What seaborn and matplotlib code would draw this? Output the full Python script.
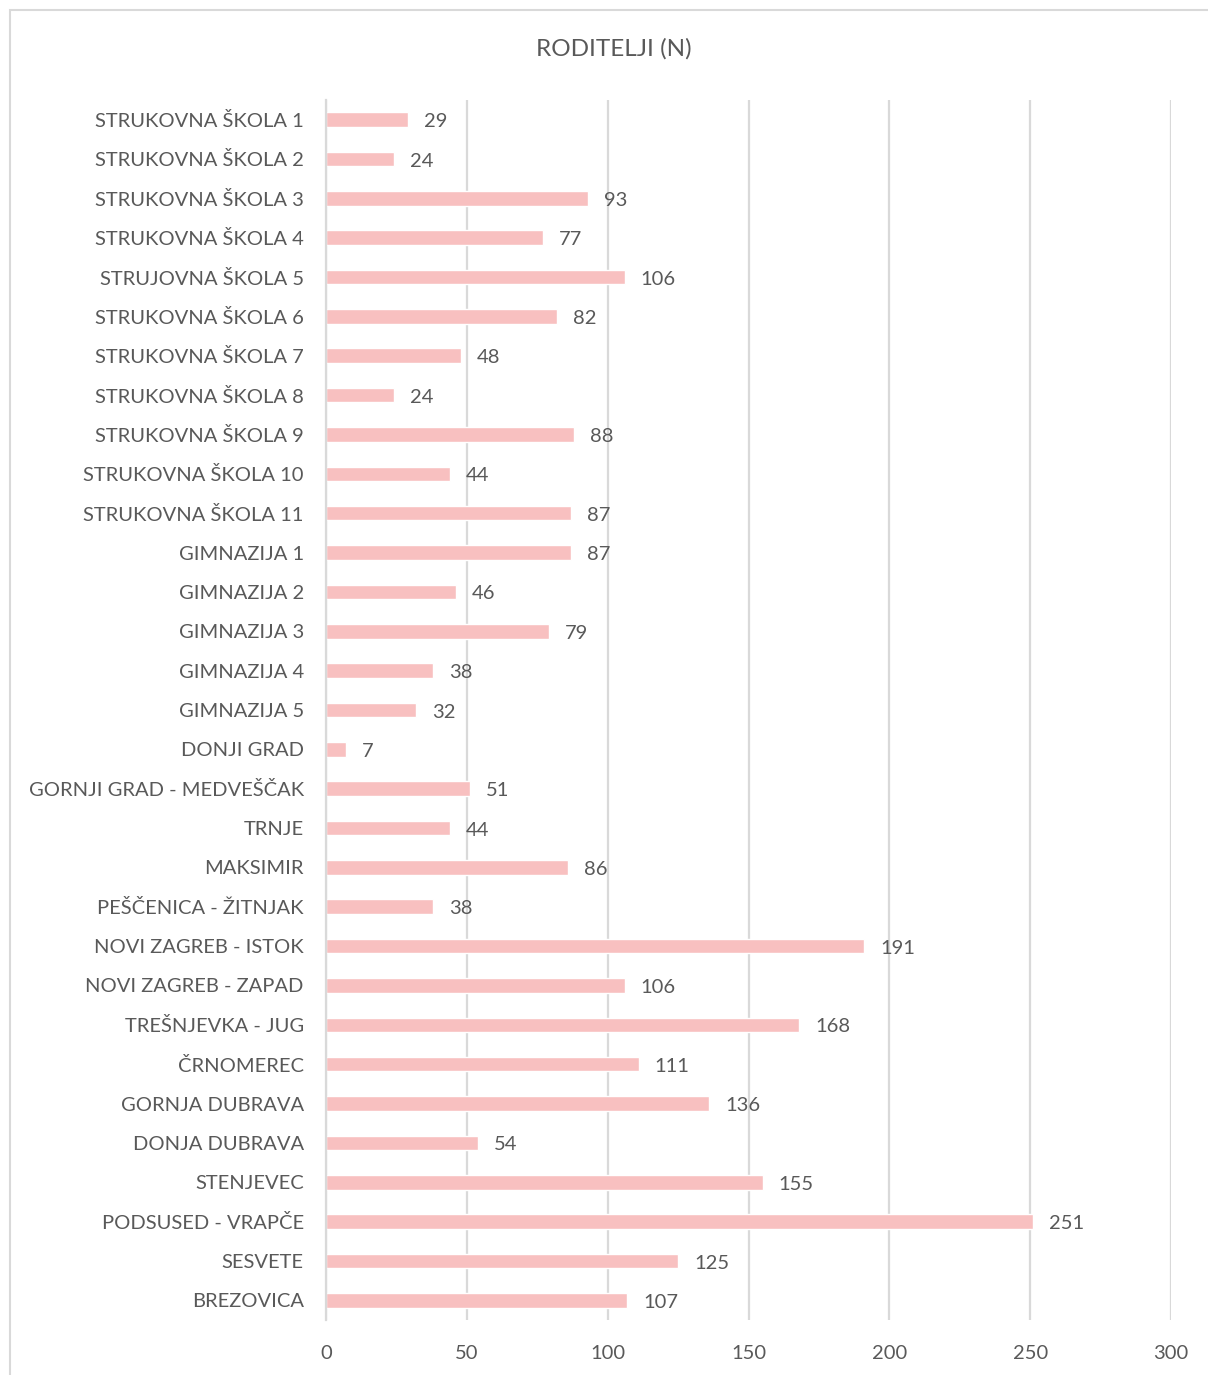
import matplotlib
matplotlib.use("Agg")
import matplotlib.pyplot as plt
import matplotlib.patches as mpatches
import seaborn as sns
import pandas as pd

# Data
schools = [
    "STRUKOVNA ŠKOLA 1", "STRUKOVNA ŠKOLA 2", "STRUKOVNA ŠKOLA 3", "STRUKOVNA ŠKOLA 4",
    "STRUJOVNA ŠKOLA 5", "STRUKOVNA ŠKOLA 6", "STRUKOVNA ŠKOLA 7", "STRUKOVNA ŠKOLA 8",
    "STRUKOVNA ŠKOLA 9", "STRUKOVNA ŠKOLA 10", "STRUKOVNA ŠKOLA 11",
    "GIMNAZIJA 1", "GIMNAZIJA 2", "GIMNAZIJA 3", "GIMNAZIJA 4", "GIMNAZIJA 5",
]
districts = [
    "DONJI GRAD", "GORNJI GRAD - MEDVEŠČAK", "TRNJE", "MAKSIMIR", "PEŠČENICA - ŽITNJAK",
    "NOVI ZAGREB - ISTOK", "NOVI ZAGREB - ZAPAD", "TREŠNJEVKA - JUG", "ČRNOMEREC",
    "GORNJA DUBRAVA", "DONJA DUBRAVA", "STENJEVEC", "PODSUSED - VRAPČE", "SESVETE", "BREZOVICA",
]
school_counts = [29, 24, 93, 77, 106, 82, 48, 24, 88, 44, 87, 87, 46, 79, 38, 32]
district_counts = [7, 51, 44, 86, 38, 191, 106, 168, 111, 136, 54, 155, 251, 125, 107]

df = pd.DataFrame({"label": schools + districts, "n": school_counts + district_counts})

sns.set_style("white")
plt.rcParams["font.family"] = ["Lato", "DejaVu Sans"]
text_color = "#595959"
grid_color = "#D9D9D9"
bar_color = "#F8C0C0"

fig = plt.figure(figsize=(12.08, 13.75), dpi=100)
ax = fig.add_axes([0.2699, 0.04, 0.6995, 0.8873])

sns.barplot(data=df, x="n", y="label", orient="h", color=bar_color,
            width=0.37, saturation=1, ax=ax)

ax.set_xlim(0, 300)
ax.set_xticks(range(0, 301, 50))
ax.xaxis.grid(True, color=grid_color, linewidth=1.6)
ax.set_axisbelow(True)
for side in ["top", "right", "bottom"]:
    ax.spines[side].set_visible(False)
ax.spines["left"].set_color(grid_color)
ax.spines["left"].set_linewidth(1.6)

ax.set_xlabel("")
ax.set_ylabel("")
ax.tick_params(axis="both", length=0, labelsize=14.5, labelcolor=text_color)
ax.tick_params(axis="y", pad=16)
ax.tick_params(axis="x", pad=18)

labels = ax.bar_label(ax.containers[0], labels=[str(v) for v in df["n"]], padding=11,
                      fontsize=14.5, color=text_color)
# Excel puts the value labels a touch below the bar centre
for t in labels:
    t.xyann = (11.5, -1.5)

fig.suptitle("RODITELJI (N)", x=0.508, y=0.972, fontsize=17.5, color=text_color)

# light frame around the chart area
frame = mpatches.Rectangle((10 / 1208, -0.1), 1.2, 1.1 - 10 / 1375,
                           transform=fig.transFigure, fill=False,
                           edgecolor=grid_color, linewidth=1.5, clip_on=False)
fig.patches.append(frame)

fig.savefig("out.png", dpi=100)
